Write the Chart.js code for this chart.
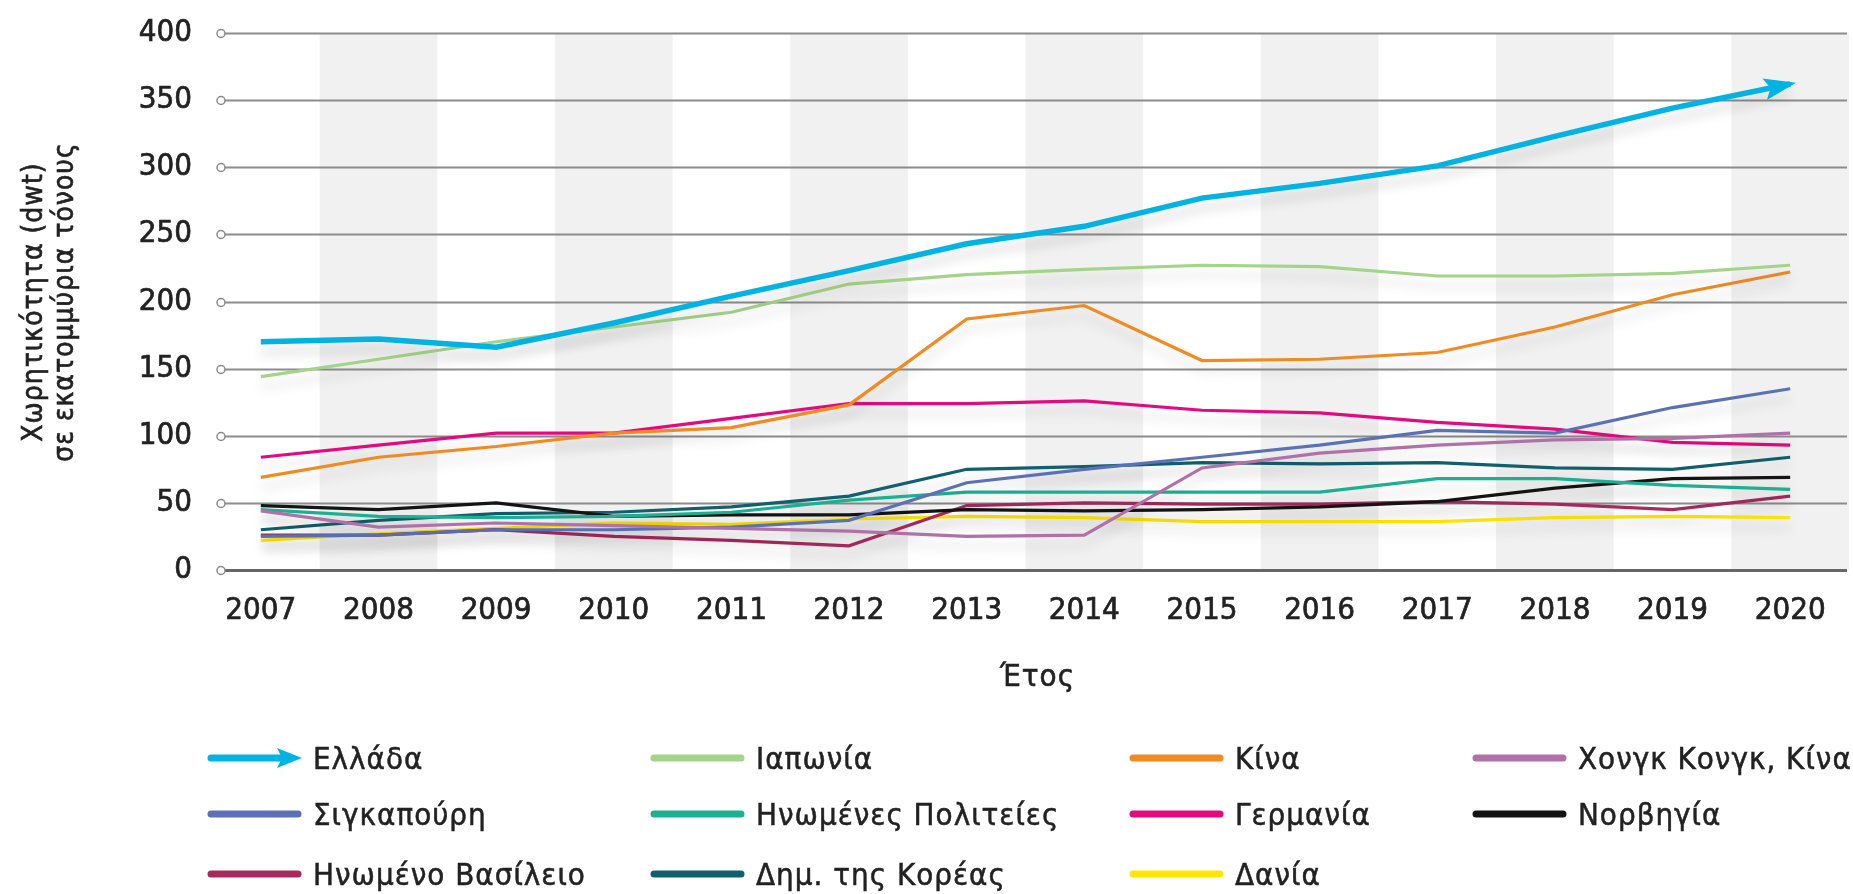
<!DOCTYPE html>
<html>
<head>
<meta charset="utf-8">
<script src="https://cdn.jsdelivr.net/npm/chart.js@4.4.1/dist/chart.umd.min.js"></script>
<style>
    html, body { margin: 0; padding: 0; background: #fff; }
    #wrap { position: relative; width: 1853px; height: 894px; }
    #legend .item {
        position: absolute; display: flex; align-items: center; height: 36px;
        font-family: 'DejaVu Sans Condensed', 'Liberation Sans Narrow', sans-serif;
        font-size: 31px; letter-spacing: 1px; color: #222; white-space: nowrap;
        -webkit-text-stroke: 0.5px #222;
    }
    #legend svg { margin-right: 11px; }
</style>
</head>
<body>
<div id="wrap">
    <canvas id="chart" width="1853" height="894"></canvas>
    <div id="legend"></div>
</div>
<script>
// Χωρητικότητα στόλου ανά χώρα (εκατ. τόνοι dwt)
const years = ["2007", "2008", "2009", "2010", "2011", "2012", "2013", "2014", "2015", "2016", "2017", "2018", "2019", "2020"];
const yTicks = [0, 50, 100, 150, 200, 250, 300, 350, 400];

const greece    = [170, 172, 166, 184, 204, 223, 243, 256, 277, 288, 301, 323, 344, 362];
const japan     = [144, 157, 170, 181, 192, 213, 220, 224, 227, 226, 219, 219, 221, 227];
const china     = [69, 84, 92, 102, 106, 123, 187, 197, 156, 157, 162, 181, 205, 222];
const hongKong  = [44, 32, 35, 33, 31, 29, 25, 26, 76, 87, 93, 97, 98, 102];
const singapore = [25, 26, 30, 30, 32, 37, 65, 75, 84, 93, 104, 102, 121, 135];
const usa       = [45, 40, 39, 40, 43, 52, 58, 58, 58, 58, 68, 68, 63, 60];
const germany   = [84, 93, 102, 102, 113, 124, 124, 126, 119, 117, 110, 105, 95, 93];
const norway    = [48, 45, 50, 40, 41, 41, 45, 44, 45, 47, 51, 61, 68, 69];
const uk        = [26, 26, 30, 25, 22, 18, 48, 50, 49, 49, 51, 49, 45, 55];
const korea     = [30, 37, 42, 43, 47, 55, 75, 77, 80, 79, 80, 76, 75, 84];
const denmark   = [22, 27, 31, 35, 34, 38, 40, 39, 36, 36, 36, 39, 40, 39];

const seriesNames = ["Ελλάδα", "Ιαπωνία", "Κίνα", "Χονγκ Κονγκ, Κίνα", "Σιγκαπούρη", "Ηνωμένες Πολιτείες",
    "Γερμανία", "Νορβηγία", "Ηνωμένο Βασίλειο", "Δημ. της Κορέας", "Δανία"];
const seriesData = [greece, japan, china, hongKong, singapore, usa, germany, norway, uk, korea, denmark];
const seriesColors = ["#00b3e3", "#a3d487", "#f18a21", "#b070a8", "#5a71b6", "#1bb091",
    "#e4097e", "#141414", "#a62a5c", "#10606e", "#ffe600"];

const yTitle = ["Χωρητικότητα (dwt)", "σε εκατομμύρια τόνους"];
const xTitle = "Έτος";

const FONT = "'DejaVu Sans Condensed', 'Liberation Sans Narrow', sans-serif";

// Zebra-Streifen + Gitterlinien mit kleinen Kreisen
const backgroundPlugin = {
    id: "background",
    beforeDatasetsDraw(chart) {
        const { ctx, chartArea } = chart;
        const xs = chart.scales.x, ys = chart.scales.y;
        const top = ys.getPixelForValue(400), bot = ys.getPixelForValue(0);
        const w = xs.getPixelForValue(1) - xs.getPixelForValue(0);

        ctx.save();
        ctx.fillStyle = "#f1f1f1";
        years.forEach((yr, i) => {
            if (Number(yr) % 2 === 0) {
                const c = xs.getPixelForValue(i);
                const l = c - w / 2, r = Math.min(c + w / 2, chartArea.right);
                ctx.fillRect(l, top, r - l, bot - top);
            }
        });

        const gx0 = chartArea.left + 19;
        const gx1 = chartArea.right - 2;
        yTicks.forEach(v => {
            const py = Math.round(ys.getPixelForValue(v)) + 0.5;
            ctx.beginPath();
            ctx.strokeStyle = v === 0 ? "#666" : "#8c8c8c";
            ctx.lineWidth = v === 0 ? 3 : 2;
            ctx.moveTo(gx0 + 4, py);
            ctx.lineTo(gx1, py);
            ctx.stroke();

            ctx.beginPath();
            ctx.arc(gx0, py, 4, 0, Math.PI * 2);
            ctx.fillStyle = "#fff";
            ctx.fill();
            ctx.lineWidth = 1.5;
            ctx.strokeStyle = "#888";
            ctx.stroke();
        });
        ctx.restore();
    }
};

// leichter Schatten unter den Linien
const shadowPlugin = {
    id: "lineShadow",
    beforeDatasetDraw(chart) {
        const ctx = chart.ctx;
        ctx.save();
        ctx.shadowColor = "rgba(0, 0, 0, 0.15)";
        ctx.shadowBlur = 12;
        ctx.shadowOffsetY = 10;
    },
    afterDatasetDraw(chart) {
        chart.ctx.restore();
    }
};

// Pfeilspitze am Ende der Linie für Ελλάδα + Achsentitel
const arrowPlugin = {
    id: "arrow",
    afterDatasetsDraw(chart) {
        const pts = chart.getDatasetMeta(0).data;
        const p1 = pts[pts.length - 2], p2 = pts[pts.length - 1];
        const a = Math.atan2(p2.y - p1.y, p2.x - p1.x);
        const ctx = chart.ctx;
        ctx.save();
        ctx.translate(p2.x, p2.y);
        ctx.rotate(a);
        ctx.beginPath();
        ctx.moveTo(6, 0);
        ctx.lineTo(-26, -11);
        ctx.lineTo(-20, 0);
        ctx.lineTo(-26, 11);
        ctx.closePath();
        ctx.fillStyle = seriesColors[0];
        ctx.fill();
        ctx.restore();
    },
    afterDraw(chart) {
        const { ctx, chartArea } = chart;
        ctx.save();
        ctx.fillStyle = "#222";
        ctx.strokeStyle = "#222";
        ctx.lineWidth = 0.6;
        ctx.font = "28px " + FONT;
        ctx.letterSpacing = "1px";
        ctx.textAlign = "center";
        ctx.textBaseline = "middle";
        // y-Titel, zwei Zeilen, gedreht
        ctx.translate(35, 302);
        ctx.rotate(-Math.PI / 2);
        yTitle.forEach((line, i) => {
            ctx.fillText(line, 0, i * 31);
            ctx.strokeText(line, 0, i * 31);
        });
        ctx.restore();

        ctx.save();
        ctx.fillStyle = "#222";
        ctx.strokeStyle = "#222";
        ctx.lineWidth = 0.6;
        ctx.font = "31px " + FONT;
        ctx.letterSpacing = "1px";
        ctx.textAlign = "center";
        ctx.textBaseline = "middle";
        const cx = (chartArea.left + chartArea.right) / 2 + 12;
        ctx.fillText(xTitle, cx, 678);
        ctx.strokeText(xTitle, cx, 678);
        ctx.restore();
    }
};

const datasets = seriesNames.map((name, i) => ({
    label: name,
    data: seriesData[i],
    borderColor: seriesColors[i],
    backgroundColor: seriesColors[i],
    borderWidth: i === 0 ? 5.5 : 3.2,
    pointRadius: 0,
    tension: 0,
    fill: false,
    order: i
}));

const chart = new Chart(document.getElementById("chart"), {
    type: "line",
    data: { labels: years, datasets: datasets },
    options: {
        responsive: false,
        animation: false,
        layout: { padding: { left: 0, top: 33, right: 4, bottom: 194 } },
        plugins: {
            legend: { display: false },
            tooltip: { enabled: false }
        },
        scales: {
            x: {
                type: "category",
                offset: true,
                grid: { display: false, drawTicks: false },
                border: { display: false },
                ticks: {
                    font: { family: FONT, size: 31 },
                    color: "#222",
                    textStrokeColor: "#222",
                    textStrokeWidth: 0.7,
                    padding: 22,
                    maxRotation: 0,
                    autoSkip: false
                },
                afterFit: s => { s.height = 130; }
            },
            y: {
                min: 0,
                max: 400,
                grid: { display: false, drawTicks: false },
                border: { display: false },
                ticks: {
                    stepSize: 50,
                    font: { family: FONT, size: 31 },
                    color: "#222",
                    textStrokeColor: "#222",
                    textStrokeWidth: 0.7,
                    padding: 10
                },
                afterFit: s => { s.width = 202; }
            }
        }
    },
    plugins: [backgroundPlugin, shadowPlugin, arrowPlugin]
});

// Legende: 4 Spalten, zeilenweise
const legendCols = [207, 650, 1129, 1472];
const legendRows = [758, 814, 874];
const legendEl = document.getElementById("legend");
seriesNames.forEach((name, i) => {
    const col = i % 4, row = Math.floor(i / 4);
    const item = document.createElement("div");
    item.className = "item";
    item.style.left = legendCols[col] + "px";
    item.style.top = (legendRows[row] - 18) + "px";
    const c = seriesColors[i];
    const swatch = i === 0
        ? `<svg width="95" height="22"><line x1="4" y1="11" x2="76" y2="11" stroke="${c}" stroke-width="7" stroke-linecap="round"/>` +
          `<polygon points="95,11 70,1 75,11 70,21" fill="${c}"/></svg>`
        : `<svg width="95" height="22"><line x1="4" y1="11" x2="91" y2="11" stroke="${c}" stroke-width="7" stroke-linecap="round"/></svg>`;
    item.innerHTML = swatch + `<span>${name}</span>`;
    legendEl.appendChild(item);
});
</script>
</body>
</html>
